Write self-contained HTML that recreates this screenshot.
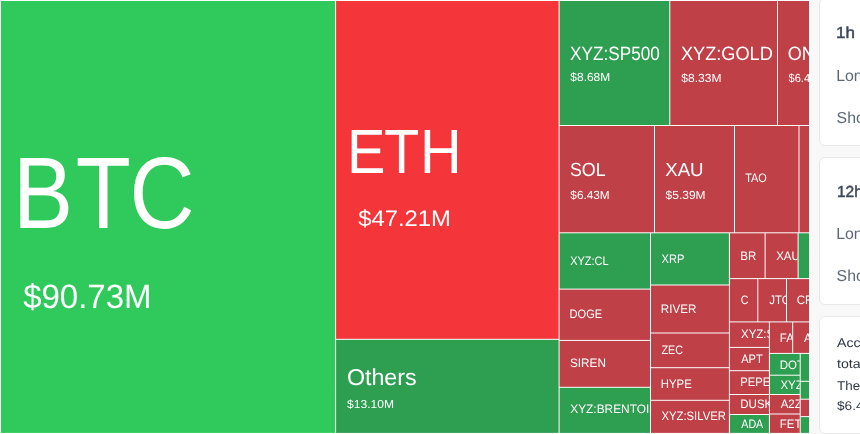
<!DOCTYPE html>
<html lang="en"><head><meta charset="utf-8"><title>Liquidation Heatmap</title>
<style>
html,body{margin:0;padding:0}
body{width:860px;height:434px;overflow:hidden;position:relative;background:#f8f8f8;font-family:"Liberation Sans",sans-serif}
#tm{position:absolute;left:0;top:0;width:811px;height:434px;background:#fff;overflow:hidden}
#tm svg{position:absolute;left:0;top:0}
.card{position:absolute;left:819px;width:60px;background:#fff;border:1px solid #e8e8e8;border-radius:6px;box-sizing:border-box}
.pt{text-rendering:geometricPrecision;position:absolute;white-space:nowrap;line-height:1;transform-origin:0 0;display:block}
.h{word-spacing:4px;font-weight:400;color:#3e4858;-webkit-text-stroke:0.5px #3e4858}
.l{color:#5d6875}
.p{color:#2f3844}
</style></head><body>
<div id="tm">
<svg width="810" height="434" viewBox="0 0 810 434" font-family="Liberation Sans, sans-serif" fill="#fff" text-rendering="geometricPrecision">
<rect x="1" y="1" width="334.1" height="431.9" fill="#30ca5c"/>
<rect x="336.1" y="1" width="222.5" height="337.8" fill="#f43539"/>
<rect x="336.1" y="339.8" width="222.5" height="93.1" fill="#2e9e50"/>
<rect x="559.6" y="1" width="109.7" height="124" fill="#2e9e50"/>
<rect x="670.3" y="1" width="106.7" height="124" fill="#bf4046"/>
<rect x="778" y="1" width="31" height="124" fill="#bf4046"/>
<rect x="559.6" y="126" width="94.4" height="106.3" fill="#bf4046"/>
<rect x="655" y="126" width="79" height="106.3" fill="#bf4046"/>
<rect x="735" y="126" width="63.5" height="106.3" fill="#bf4046"/>
<rect x="799.5" y="126" width="9.5" height="106.3" fill="#bf4046"/>
<rect x="559.6" y="233.3" width="90.4" height="55.3" fill="#2e9e50"/>
<rect x="559.6" y="289.6" width="90.4" height="50.3" fill="#bf4046"/>
<rect x="559.6" y="340.9" width="90.4" height="45.9" fill="#bf4046"/>
<rect x="559.6" y="387.8" width="90.4" height="45.1" fill="#2e9e50"/>
<rect x="651" y="233.3" width="77.9" height="51.2" fill="#2e9e50"/>
<rect x="651" y="285.5" width="77.9" height="47.0" fill="#bf4046"/>
<rect x="651" y="333.5" width="77.9" height="33.7" fill="#bf4046"/>
<rect x="651" y="368.2" width="77.9" height="31.6" fill="#bf4046"/>
<rect x="651" y="400.8" width="77.9" height="32.1" fill="#bf4046"/>
<rect x="729.9" y="233.3" width="34.7" height="44.8" fill="#bf4046"/>
<rect x="765.6" y="233.3" width="32.0" height="44.8" fill="#bf4046"/>
<rect x="798.6" y="233.3" width="10.4" height="44.8" fill="#2e9e50"/>
<rect x="729.9" y="279.1" width="27.4" height="42.3" fill="#bf4046"/>
<rect x="758.3" y="279.1" width="27.7" height="42.3" fill="#bf4046"/>
<rect x="787" y="279.1" width="22" height="42.3" fill="#bf4046"/>
<rect x="729.9" y="322.4" width="39.0" height="24.5" fill="#bf4046"/>
<rect x="729.9" y="347.9" width="39.0" height="22.3" fill="#bf4046"/>
<rect x="729.9" y="371.2" width="39.0" height="22.8" fill="#bf4046"/>
<rect x="729.9" y="395" width="39.0" height="19" fill="#bf4046"/>
<rect x="729.9" y="415" width="39.0" height="17.9" fill="#2e9e50"/>
<rect x="769.9" y="322.4" width="22.3" height="30.5" fill="#bf4046"/>
<rect x="793.2" y="322.4" width="15.8" height="30.5" fill="#bf4046"/>
<rect x="769.9" y="353.9" width="29.8" height="20.8" fill="#2e9e50"/>
<rect x="769.9" y="375.7" width="29.8" height="18.3" fill="#2e9e50"/>
<rect x="769.9" y="395" width="29.8" height="18.5" fill="#bf4046"/>
<rect x="769.9" y="414.5" width="29.8" height="18.4" fill="#bf4046"/>
<rect x="800.7" y="353.9" width="8.3" height="26.9" fill="#2e9e50"/>
<rect x="800.7" y="381.8" width="8.3" height="16.9" fill="#2e9e50"/>
<rect x="800.7" y="399.7" width="8.3" height="16.4" fill="#bf4046"/>
<rect x="800.7" y="417.1" width="8.3" height="15.8" fill="#2e9e50"/>
<text transform="translate(13.10,227.50) scale(0.8862,1)" font-size="101.75" dx="0.00 2.93 -1.58">BTC</text>
<text transform="translate(23.15,307.50) scale(0.9777,1)" font-size="33.72">$90.73M</text>
<text transform="translate(347.02,172.50) scale(0.9235,1)" font-size="62.50" dx="0.00 -1.73 0.87">ETH</text>
<text transform="translate(358.24,225.50) scale(1.0574,1)" font-size="22.53">$47.21M</text>
<text transform="translate(346.90,384.85) scale(1.0119,1)" font-size="22.97">Others</text>
<text transform="translate(347.07,408.10) scale(1.0522,1)" font-size="11.48">$13.10M</text>
<text transform="translate(570.11,59.60) scale(0.8958,1)" font-size="19.19">XYZ:SP500</text>
<text transform="translate(570.37,80.75) scale(1.0150,1)" font-size="11.77">$8.68M</text>
<text transform="translate(680.89,60.00) scale(0.9481,1)" font-size="19.19">XYZ:GOLD</text>
<text transform="translate(681.37,81.80) scale(1.0242,1)" font-size="11.77">$8.33M</text>
<svg x="778" y="0" width="31" height="434"><text transform="translate(9.74,60.00) scale(0.9415,1)" font-size="19.19">ONDO</text></svg>
<svg x="778" y="0" width="31" height="434"><text transform="translate(10.48,81.80) scale(0.9423,1)" font-size="11.77">$6.41M</text></svg>
<text transform="translate(569.89,176.20) scale(0.9398,1)" font-size="19.04">SOL</text>
<text transform="translate(570.37,198.70) scale(1.0019,1)" font-size="11.77">$6.43M</text>
<text transform="translate(665.18,175.70) scale(0.9824,1)" font-size="19.04">XAU</text>
<text transform="translate(665.62,198.60) scale(1.0176,1)" font-size="11.77">$5.39M</text>
<text transform="translate(745.15,182.40) scale(0.8847,1)" font-size="12.35">TAO</text>
<text transform="translate(570.25,265.00) scale(0.8974,1)" font-size="12.21">XYZ:CL</text>
<text transform="translate(661.50,262.75) scale(0.9096,1)" font-size="12.21">XRP</text>
<text transform="translate(740.31,259.60) scale(0.9420,1)" font-size="12.21">BR</text>
<svg x="765.6" y="0" width="32.0" height="434"><text transform="translate(10.54,259.60) scale(0.9423,1)" font-size="12.21">XAUT</text></svg>
<text transform="translate(569.59,318.10) scale(0.9077,1)" font-size="12.21">DOGE</text>
<text transform="translate(569.97,366.90) scale(0.9647,1)" font-size="12.21">SIREN</text>
<svg x="560" y="0" width="90" height="434"><text transform="translate(10.23,413.00) scale(0.9740,1)" font-size="12.21">XYZ:BRENTOIL</text></svg>
<text transform="translate(660.80,313.00) scale(0.9511,1)" font-size="12.21">RIVER</text>
<text transform="translate(661.41,353.60) scale(0.8805,1)" font-size="12.21">ZEC</text>
<text transform="translate(660.82,387.75) scale(0.9300,1)" font-size="12.21">HYPE</text>
<text transform="translate(661.50,420.20) scale(0.9250,1)" font-size="12.21">XYZ:SILVER</text>
<text transform="translate(740.71,303.60) scale(0.8730,1)" font-size="12.21">C</text>
<svg x="758.3" y="0" width="27.7" height="434"><text transform="translate(10.92,303.60) scale(0.9423,1)" font-size="12.21">JTO</text></svg>
<svg x="787" y="0" width="22" height="434"><text transform="translate(9.72,303.60) scale(0.9423,1)" font-size="12.21">CRV</text></svg>
<svg x="730" y="0" width="39" height="434"><text transform="translate(10.99,338.00) scale(0.9423,1)" font-size="12.21">XYZ:SILVER</text></svg>
<svg x="770" y="0" width="22.2" height="434"><text transform="translate(9.76,341.70) scale(0.9423,1)" font-size="12.21">FARTCOIN</text></svg>
<svg x="793.2" y="0" width="15.8" height="434"><text transform="translate(10.78,341.70) scale(0.9423,1)" font-size="12.21">AVAX</text></svg>
<text transform="translate(741.23,363.10) scale(0.9065,1)" font-size="12.21">APT</text>
<svg x="730" y="0" width="39" height="434"><text transform="translate(10.33,385.50) scale(0.9200,1)" font-size="12.21">PEPE</text></svg>
<svg x="730" y="0" width="39" height="434"><text transform="translate(10.31,408.40) scale(0.9423,1)" font-size="12.21">DUSK</text></svg>
<text transform="translate(741.23,427.75) scale(0.8780,1)" font-size="12.21">ADA</text>
<svg x="770" y="0" width="29.7" height="434"><text transform="translate(9.76,368.80) scale(0.9423,1)" font-size="12.21">DOT</text></svg>
<svg x="770" y="0" width="29.7" height="434"><text transform="translate(10.44,388.80) scale(0.9423,1)" font-size="12.21">XYZ:NVDA</text></svg>
<svg x="770" y="0" width="29.7" height="434"><text transform="translate(10.68,408.20) scale(0.9423,1)" font-size="12.21">A2Z</text></svg>
<svg x="770" y="0" width="29.7" height="434"><text transform="translate(9.76,427.50) scale(0.9423,1)" font-size="12.21">FET</text></svg>
</svg>
</div>
<div class="card" style="top:-2px;height:148px">
<span class="pt h" style="left:16.31px;top:27.06px;font-size:15.99px;transform:scaleX(1.06)">1h Rekt</span>
<span class="pt l" style="left:16.20px;top:70.19px;font-size:15.84px;transform:scaleX(1.0)">Long</span>
<span class="pt l" style="left:16.58px;top:112.09px;font-size:15.84px;transform:scaleX(1.0)">Short</span>
</div>
<div class="card" style="top:157px;height:148px">
<span class="pt h" style="left:16.92px;top:26.56px;font-size:15.99px;transform:scaleX(0.97)">12h Rekt</span>
<span class="pt l" style="left:16.20px;top:69.09px;font-size:15.84px;transform:scaleX(1.0)">Long</span>
<span class="pt l" style="left:16.58px;top:110.99px;font-size:15.84px;transform:scaleX(1.0)">Short</span>
</div>
<div class="card" style="top:316px;height:118px">
<span class="pt p" style="left:16.87px;top:20.19px;font-size:12.65px;transform:scaleX(1.12)">According to</span>
<span class="pt p" style="left:16.69px;top:41.19px;font-size:12.65px;transform:scaleX(1.12)">total liquidations</span>
<span class="pt p" style="left:16.60px;top:62.79px;font-size:12.65px;transform:scaleX(1.06)">The largest</span>
<span class="pt p" style="left:16.75px;top:82.79px;font-size:12.65px;transform:scaleX(1.08)">$6.41M</span>
</div>
</body></html>
